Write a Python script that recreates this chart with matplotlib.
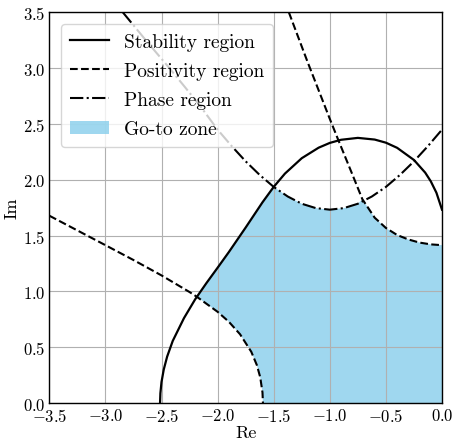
import numpy as np
import matplotlib
matplotlib.use("Agg")
import matplotlib.pyplot as plt

plt.rcParams['font.family'] = ['cmr10', 'DejaVu Serif']
plt.rcParams['mathtext.fontset'] = 'cm'
plt.rcParams['axes.formatter.use_mathtext'] = True
plt.rcParams['axes.unicode_minus'] = True

# ---- data ----
stab_x = [-2.513, -2.51, -2.50, -2.48, -2.45, -2.40, -2.30, -2.20, -2.10, -2.00, -1.90,
          -1.75, -1.60, -1.50, -1.40, -1.25, -1.10, -1.00, -0.90, -0.75, -0.60, -0.50,
          -0.40, -0.25, -0.15, -0.10, -0.05, 0.00]
stab_y = [0.000, 0.087, 0.188, 0.300, 0.415, 0.556, 0.760, 0.929, 1.074, 1.212, 1.352,
          1.572, 1.798, 1.936, 2.055, 2.193, 2.287, 2.330, 2.358, 2.375, 2.360, 2.332,
          2.286, 2.177, 2.064, 1.986, 1.884, 1.732]

pos_left_x = [-3.50, -3.25, -3.00, -2.75, -2.50, -2.25, -2.19, -2.00, -1.90, -1.80,
              -1.70, -1.65, -1.62, -1.60, -1.596]
pos_left_y = [1.678, 1.546, 1.414, 1.281, 1.143, 0.994, 0.955, 0.817, 0.728, 0.616,
              0.459, 0.339, 0.230, 0.094, 0.000]

pos_right_x = [-1.365, -1.20, -1.00, -0.926, -0.80, -0.71, -0.60, -0.50, -0.40, -0.30,
               -0.20, -0.10, 0.00]
pos_right_y = [3.500, 3.060, 2.545, 2.360, 2.050, 1.826, 1.660, 1.568, 1.505, 1.465,
               1.437, 1.421, 1.414]

phase_x = [-2.845, -2.64, -2.43, -2.30, -2.158, -2.00, -1.875, -1.75, -1.625, -1.50,
           -1.375, -1.25, -1.125, -1.00, -0.875, -0.75, -0.625, -0.50, -0.375, -0.25,
           -0.125, 0.00]
phase_y = [3.500, 3.250, 3.000, 2.841, 2.664, 2.449, 2.302, 2.165, 2.043, 1.936,
           1.850, 1.785, 1.746, 1.732, 1.746, 1.785, 1.850, 1.936, 2.043, 2.165,
           2.302, 2.449]

# corners of the go-to zone (curve crossings)
zone_cx = [-2.19, -1.50, -0.71]
zone_cy = [0.955, 1.936, 1.826]

xticks = [-3.5, -3.0, -2.5, -2.0, -1.5, -1.0, -0.5, 0.0]
yticks = [0.0, 0.5, 1.0, 1.5, 2.0, 2.5, 3.0, 3.5]

# ---- build zone polygon from the curve arrays ----
sx, sy = np.array(stab_x), np.array(stab_y)
plx, ply = np.array(pos_left_x), np.array(pos_left_y)
prx, pry = np.array(pos_right_x), np.array(pos_right_y)
phx, phy = np.array(phase_x), np.array(phase_y)

poly_x, poly_y = [], []
m = plx > zone_cx[0]
poly_x += list(plx[m][::-1]); poly_y += list(ply[m][::-1])
poly_x.append(zone_cx[0]); poly_y.append(zone_cy[0])
m = (sx > zone_cx[0]) & (sx < zone_cx[1])
poly_x += list(sx[m]); poly_y += list(sy[m])
poly_x.append(zone_cx[1]); poly_y.append(zone_cy[1])
m = (phx > zone_cx[1]) & (phx < zone_cx[2])
poly_x += list(phx[m]); poly_y += list(phy[m])
poly_x.append(zone_cx[2]); poly_y.append(zone_cy[2])
m = prx > zone_cx[2]
poly_x += list(prx[m]); poly_y += list(pry[m])
poly_x += [0.0, pos_left_x[-1]]; poly_y += [0.0, 0.0]

fig = plt.figure(figsize=(4.54, 4.39), dpi=100)
ax = fig.add_axes([0.1086, 0.0797, 0.8650, 0.8900])

ax.fill(poly_x, poly_y, color='skyblue', alpha=0.8, lw=0, label='Go-to zone')
ax.plot(stab_x, stab_y, 'k-', lw=1.6, label='Stability region')
ax.plot(pos_left_x, pos_left_y, 'k--', lw=1.5, label='Positivity region')
ax.plot(pos_right_x, pos_right_y, 'k--', lw=1.5)
ax.plot(phase_x, phase_y, 'k-.', lw=1.5, label='Phase region')

ax.set_xlim(-3.5, 0.0)
ax.set_ylim(0.0, 3.5)
ax.set_xticks(xticks)
ax.set_yticks(yticks)
ax.grid(True, color='#b0b0b0', lw=0.8)
ax.tick_params(length=0, labelsize=12, pad=3)
for s in ax.spines.values():
    s.set_color('black')
    s.set_linewidth(1.0)
ax.set_xlabel('Re', fontsize=13, labelpad=0)
ax.set_ylabel('Im', fontsize=13, labelpad=2)

handles, labels = ax.get_legend_handles_labels()
order = [labels.index(n) for n in ['Stability region', 'Positivity region', 'Phase region', 'Go-to zone']]
ax.legend([handles[i] for i in order], [labels[i] for i in order], loc='upper left',
          fontsize=14, handlelength=2.0, labelspacing=0.58, borderaxespad=0.6,
          borderpad=0.45)

fig.savefig('out.png', dpi=100)
